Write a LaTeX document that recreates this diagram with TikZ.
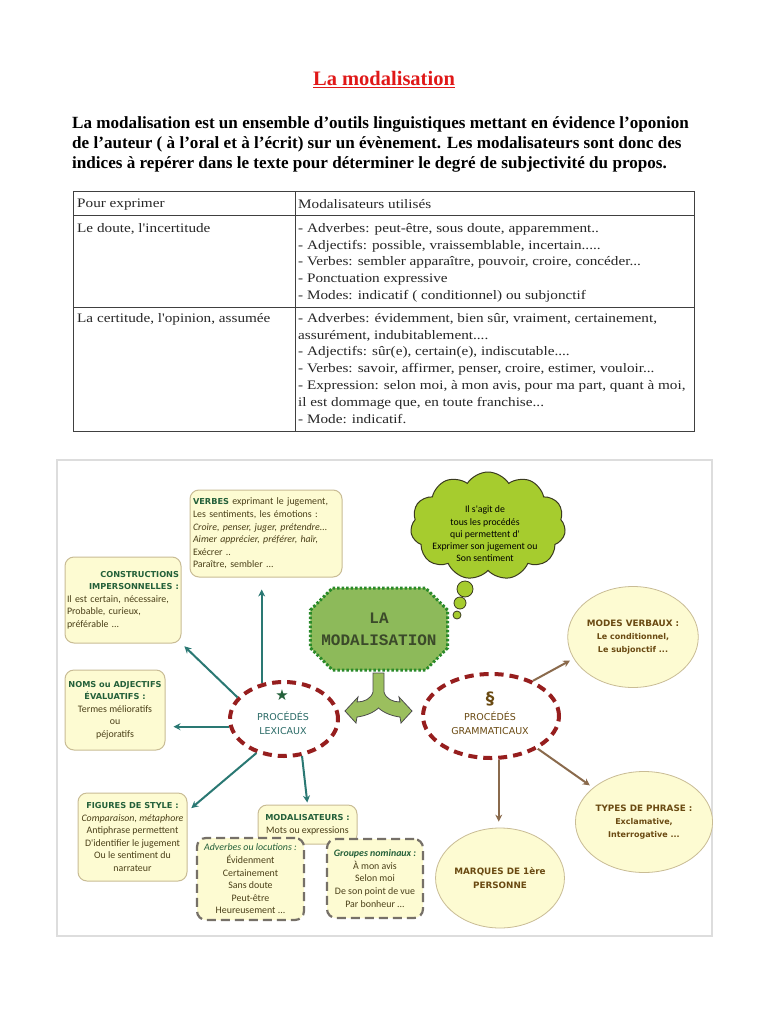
\documentclass[tikz,border=0pt]{standalone}
\usepackage{fontspec}
\setmainfont{Liberation Serif}
\newfontfamily\tablefont{Liberation Serif}[FakeStretch=1.17]
\newfontfamily\mapfont{Carlito}
\newfontfamily\capfont{DejaVu Sans}
\newfontfamily\typefont{Liberation Mono}
\usepackage{xcolor}
\usetikzlibrary{positioning, arrows.meta, shapes.misc, shapes.symbols, shapes.geometric}

\definecolor{titlered}{HTML}{E01818}
\definecolor{cream}{HTML}{FDFBD2}
\definecolor{boxline}{HTML}{C9BC95}
\definecolor{dashgray}{HTML}{767068}
\definecolor{headgreen}{HTML}{24603A}
\definecolor{inkdark}{HTML}{4A3F18}
\definecolor{brownink}{HTML}{6A4A12}
\definecolor{lexink}{HTML}{2A6A66}
\definecolor{tealarrow}{HTML}{2A7873}
\definecolor{brownarrow}{HTML}{8A6A4C}
\definecolor{procred}{HTML}{961E1E}
\definecolor{titlegreen}{HTML}{8DBA5A}
\definecolor{dotgreen}{HTML}{2A8A2A}
\definecolor{titleink}{HTML}{3B4A2A}
\definecolor{cloudgreen}{HTML}{A6CC2E}
\definecolor{cloudline}{HTML}{3A3A20}
\definecolor{splitgreen}{HTML}{9BBF5E}
\definecolor{panelgray}{HTML}{DDDDDD}

\newcommand{\maphead}[1]{{\capfont\bfseries\fontsize{8.2}{12.6}\selectfont\color{headgreen}#1}}

\begin{document}
\begin{tikzpicture}[
  x=1pt, y=-1pt,
  box/.style={draw=boxline, line width=1pt, rounded corners=9pt, fill=cream,
              inner sep=2pt, text=inkdark,
              font=\mapfont\fontsize{9.9}{12.6}\selectfont},
  dbox/.style={box, draw=dashgray, line width=2.2pt, dash pattern=on 9pt off 5pt},
  bubble/.style={ellipse, draw=boxline, fill=cream, line width=0.8pt, inner sep=0pt,
                 align=center, text=brownink,
                 font=\capfont\bfseries\fontsize{8}{13.2}\selectfont},
  proc/.style={ellipse, draw=procred, line width=4pt, dash pattern=on 9pt off 6pt,
               fill=white, inner sep=0pt},
  proctext/.style={align=center, inner sep=0pt, font=\capfont\fontsize{9.5}{14}\selectfont},
  arr/.style={-{Stealth[length=7pt,width=7pt]}, line width=2pt, draw=tealarrow},
  barr/.style={arr, draw=brownarrow},
  cell/.style={anchor=north west, align=left, inner sep=0pt, text=black!85,
               font=\tablefont\fontsize{13}{16.8}\selectfont},
  tabline/.style={draw=black!75, line width=1pt}
]
\fill[white] (0,0) rectangle (768,1024);
\useasboundingbox (0,0) rectangle (768,1024);

% heading and introduction
\node[anchor=base, inner sep=0pt, text=titlered,
      font=\bfseries\fontsize{20.5}{24}\selectfont] (heading) at (384,86) {\underline{La modalisation}};
\node[anchor=north west, align=left, inner sep=0pt,
      font=\bfseries\fontsize{17.1}{20.2}\selectfont] (intro) at (72,116)
  {La modalisation est un ensemble d'outils linguistiques mettant en évidence l'oponion\\
   de l'auteur ( à l'oral et à l'écrit) sur un évènement. Les modalisateurs sont donc des\\
   indices à repérer dans le texte pour déterminer le degré de subjectivité du propos.};

% table
\draw[tabline] (73,192) rectangle (694,431);
\draw[tabline] (295,192) -- (295,431);
\draw[tabline] (73,216) -- (694,216);
\draw[tabline] (73,307) -- (694,307);
\node[cell] (hdrleft) at (77,199) {Pour exprimer};
\node[cell] (hdrright) at (298,199) {Modalisateurs utilisés};
\node[cell] (doubtleft) at (77,223) {Le doute, l'incertitude};
\node[cell] (doubtright) at (298,223)
  {- Adverbes: peut-être, sous doute, apparemment..\\
   - Adjectifs: possible, vraissemblable, incertain.....\\
   - Verbes: sembler apparaître, pouvoir, croire, concéder...\\
   - Ponctuation expressive\\
   - Modes: indicatif ( conditionnel) ou subjonctif};
\node[cell] (certleft) at (77,313) {La certitude, l'opinion, assumée};
\node[cell] (certright) at (298,313)
  {- Adverbes: évidemment, bien sûr, vraiment, certainement,\\
   assurément, indubitablement....\\
   - Adjectifs: sûr(e), certain(e), indiscutable....\\
   - Verbes: savoir, affirmer, penser, croire, estimer, vouloir...\\
   - Expression: selon moi, à mon avis, pour ma part, quant à moi,\\
   il est dommage que, en toute franchise...\\
   - Mode: indicatif.};

% mind map
\draw[draw=panelgray, line width=1.2pt] (57,460) rectangle (712,936);

\node[box, minimum width=152pt, minimum height=87pt, text width=146pt, align=left] (verbs) at (266,533.5)
  {\maphead{VERBES} exprimant le jugement,\\Les sentiments, les émotions :\\
   \textit{Croire, penser, juger, prétendre...}\\\textit{Aimer apprécier, préférer, haïr,}\\
   Exécrer ..\\Paraître, sembler ...};
\node[box, minimum width=116pt, minimum height=86pt, text width=112pt, align=left] (constr) at (123,600)
  {\hspace*{\fill}\maphead{CONSTRUCTIONS}\hspace*{\fill}\\
   \hspace*{\fill}\maphead{IMPERSONNELLES :}\hspace*{\fill}\\
   Il est certain, nécessaire,\\Probable, curieux,\\préférable ...};
\node[box, minimum width=100pt, minimum height=80pt, align=center] (noms) at (115,710)
  {\maphead{NOMS ou ADJECTIFS}\\\maphead{ÉVALUATIFS :}\\
   Termes mélioratifs\\ou\\péjoratifs};
\node[box, minimum width=109pt, minimum height=88pt, align=center] (figs) at (132.5,837)
  {\maphead{FIGURES DE STYLE :}\\\textit{Comparaison, métaphore}\\
   Antiphrase permettent\\D'identifier le jugement\\Ou le sentiment du\\narrateur};
\node[box, minimum width=99pt, minimum height=39pt, align=center] (modal) at (307.5,824.5)
  {\maphead{MODALISATEURS :}\\Mots ou expressions};
\node[dbox, minimum width=107pt, minimum height=82pt, align=center] (adverbs) at (250.5,879)
  {\textit{\color{headgreen}Adverbes ou locutions :}\\Évidenment\\Certainement\\Sans doute\\Peut-être\\Heureusement ...};
\node[dbox, minimum width=96pt, minimum height=79pt, align=center] (groups) at (375,878.5)
  {\textbf{\textit{\color{headgreen}Groupes nominaux :}}\\À mon avis\\Selon moi\\De son point de vue\\Par bonheur ...};

\node[chamfered rectangle, chamfered rectangle sep=11pt, draw=dotgreen, line width=3pt,
      dash pattern=on 2.5pt off 2pt, fill=titlegreen, minimum width=132pt,
      minimum height=82pt, inner sep=0pt, align=center, text=titleink,
      font=\typefont\bfseries\fontsize{16}{22}\selectfont] (core) at (379,629) {LA\\MODALISATION};

% thought cloud
\node[cloud, cloud puffs=11, cloud puff arc=115, cloud ignores aspect, draw=cloudline,
      fill=cloudgreen, line width=1pt, minimum width=155pt, minimum height=108pt,
      inner sep=0pt] (think) at (488,526) {};
\node[align=center, inner sep=0pt, font=\mapfont\fontsize{9.8}{12.2}\selectfont] (thinktext) at (485,534)
  {Il s'agit de\\tous les procédés\\qui permettent d'\\Exprimer son jugement ou\\Son sentiment};
\node[circle, draw=cloudline, fill=cloudgreen, line width=0.8pt, minimum size=16pt, inner sep=0pt] (puffa) at (465,589) {};
\node[circle, draw=cloudline, fill=cloudgreen, line width=0.8pt, minimum size=12pt, inner sep=0pt] (puffb) at (460,603) {};
\node[circle, draw=cloudline, fill=cloudgreen, line width=0.8pt, minimum size=8pt, inner sep=0pt] (puffc) at (457,615) {};

% split arrow under the core box
\filldraw[fill=splitgreen, draw=black!70, line width=0.8pt]
  (373,673) -- (384,673) -- (384,692) .. controls (386,699) and (393,702) .. (400,702)
  -- (399,697) -- (412,711) -- (401,723) -- (400,717)
  .. controls (392,716) and (384,713) .. (378.5,708)
  .. controls (373,713) and (365,716) .. (357,717) -- (356,723) -- (345,711)
  -- (358,697) -- (357,702) .. controls (364,702) and (371,699) .. (373,692) -- cycle;

% the two families of procedures
\node[proc, minimum width=108pt, minimum height=74pt] (lex) at (284,719) {};
\node[inner sep=0pt, text=headgreen, font=\capfont\fontsize{15}{15}\selectfont] (lexstar) at (282,695) {★};
\node[proctext, text=lexink] (lexlabel) at (283,723.5) {PROCÉDÉS\\LEXICAUX};
\node[proc, minimum width=136pt, minimum height=84pt] (gram) at (491,716) {};
\node[inner sep=0pt, text=brownink, font=\capfont\bfseries\fontsize{17}{17}\selectfont] (gramsign) at (490,699) {§};
\node[proctext, text=brownink] (gramlabel) at (490,723) {PROCÉDÉS\\GRAMMATICAUX};

\node[bubble, minimum width=107pt, minimum height=101pt] (modes) at (633,637)
  {{\fontsize{8.8}{13.2}\selectfont MODES VERBAUX :}\\Le conditionnel,\\Le subjonctif ...};
\node[bubble, minimum width=108pt, minimum height=101pt] (types) at (644,822)
  {{\fontsize{8.8}{13.2}\selectfont TYPES DE PHRASE :}\\Exclamative,\\Interrogative ...};
\node[bubble, minimum width=106pt, minimum height=100pt] (marks) at (500,878)
  {{\fontsize{8.8}{15}\selectfont MARQUES DE 1ère}\\{\fontsize{8.8}{15}\selectfont PERSONNE}};

\draw[arr, shorten >=12pt] (lex.122) -- (lex.122 |- verbs.south);
\draw[arr, shorten >=4pt] (lex.155) -- (constr.south east);
\draw[arr, shorten >=8pt] (lex.188) -- (lex.188 -| noms.east);
\draw[arr, shorten >=5pt] (lex.231) -- (figs.25);
\draw[arr, shorten >=2pt] (lex.296) -- (modal.north);
\draw[barr, shorten >=4pt] (gram.40) -- (modes.200);
\draw[barr, shorten >=4pt] (gram.325) -- (types.146);
\draw[barr, shorten >=6pt] (gram.280) -- (gram.280 |- marks.north);
\end{tikzpicture}
\end{document}
